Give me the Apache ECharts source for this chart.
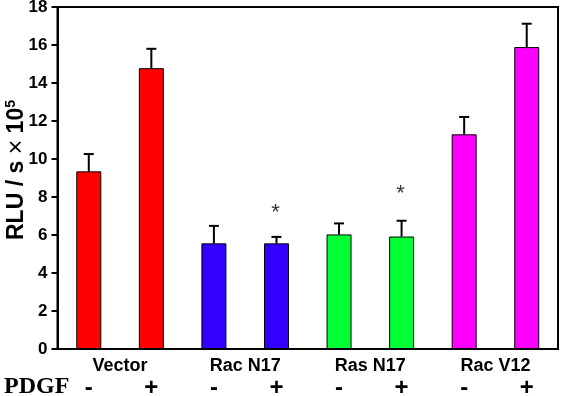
<!DOCTYPE html>
<html>
<head>
<meta charset="utf-8">
<script src="https://cdn.jsdelivr.net/npm/echarts@6/dist/echarts.min.js"></script>
<style>
  html, body { margin: 0; padding: 0; background: #fff; }
  #chart { width: 563px; height: 396px; }
</style>
</head>
<body>
<div id="chart"></div>
<script>
// 分组与处理
var groups = ['Vector', 'Rac N17', 'Ras N17', 'Rac V12'];
var pdgf = ['-', '+', '-', '+', '-', '+', '-', '+'];
var groupColors = ['#ff0000', '#3300ff', '#00ff33', '#ff00ff'];

// 柱高与上误差
var means = [9.35, 14.78, 5.56, 5.56, 6.03, 5.92, 11.3, 15.89];
var errors = [0.91, 1.02, 0.92, 0.34, 0.58, 0.83, 0.91, 1.23];

// 星号位置 [柱序号, 值]
var stars = [[3, 7.45], [5, 8.4]];

var yTicks = [0, 2, 4, 6, 8, 10, 12, 14, 16, 18];

var FONT = 'Liberation Sans, Arial, sans-serif';

var barData = means.map(function (v, i) {
    return {
        value: v,
        itemStyle: { color: groupColors[Math.floor(i / 2)] }
    };
});

var errData = means.map(function (v, i) {
    return [i, v, v + errors[i]];
});

var myChart = echarts.init(document.getElementById('chart'));
myChart.setOption({
    animation: false,
    grid: {
        left: 57.5, right: 5, top: 7, bottom: 47,
        outerBoundsMode: 'none',
        containLabel: false,
        show: true, borderColor: '#000', borderWidth: 2
    },
    xAxis: [{
        type: 'category',
        data: pdgf,
        axisLine: { lineStyle: { color: '#000', width: 2 } },
        axisTick: { show: false },
        axisLabel: {
            margin: 27, color: '#000',
            fontFamily: FONT, fontWeight: 'bold', fontSize: 24
        }
    }, {
        type: 'category',
        data: groups,
        position: 'bottom',
        axisLine: { show: false },
        axisTick: { show: false },
        axisLabel: {
            margin: 8, color: '#000',
            fontFamily: FONT, fontWeight: 'bold', fontSize: 18
        }
    }],
    yAxis: {
        type: 'value',
        min: yTicks[0], max: yTicks[yTicks.length - 1], interval: 2,
        splitLine: { show: false },
        axisLine: { show: true, lineStyle: { color: '#000', width: 2 } },
        axisTick: { show: true, length: 6, lineStyle: { color: '#000', width: 2 } },
        axisLabel: {
            margin: 10, color: '#000',
            fontFamily: FONT, fontWeight: 'bold', fontSize: 17
        },
        name: '{a|RLU / s }{x|×}{a| 10}{s|5}',
        nameLocation: 'middle',
        nameRotate: 90,
        nameGap: 28,
        nameMoveOverlap: false,
        nameTextStyle: {
            padding: [0, 0, 0, 16],
            rich: {
                a: { fontFamily: FONT, fontWeight: 'bold', fontSize: 23, color: '#000' },
                x: { fontFamily: FONT, fontWeight: 'normal', fontSize: 25, color: '#000' },
                s: { fontFamily: FONT, fontWeight: 'bold', fontSize: 14, color: '#000', verticalAlign: 'top', padding: [0, 0, 9, 0] }
            }
        }
    },
    graphic: [{
        type: 'text',
        left: 4, top: 375,
        style: {
            text: 'PDGF',
            font: 'bold 24px "Liberation Serif", "Times New Roman", serif',
            fill: '#000'
        }
    }],
    series: [{
        type: 'bar',
        data: barData,
        barWidth: 25,
        itemStyle: { borderColor: '#000', borderWidth: 1 },
        z: 2
    }, {
        type: 'custom',
        data: errData,
        z: 3,
        renderItem: function (params, api) {
            var base = api.coord([api.value(0), api.value(1)]);
            var top = api.coord([api.value(0), api.value(2)]);
            var half = 5;
            return {
                type: 'group',
                children: [{
                    type: 'line',
                    shape: { x1: base[0], y1: base[1], x2: top[0], y2: top[1] },
                    style: { stroke: '#000', lineWidth: 2 }
                }, {
                    type: 'line',
                    shape: { x1: top[0] - half, y1: top[1], x2: top[0] + half, y2: top[1] },
                    style: { stroke: '#000', lineWidth: 2 }
                }]
            };
        }
    }, {
        type: 'scatter',
        data: stars,
        symbolSize: 1,
        itemStyle: { color: 'rgba(0,0,0,0)' },
        label: {
            show: true, position: 'inside', formatter: '*',
            fontFamily: FONT, fontSize: 22, color: '#000',
            offset: [-1, 5]
        }
    }]
});
</script>
</body>
</html>
